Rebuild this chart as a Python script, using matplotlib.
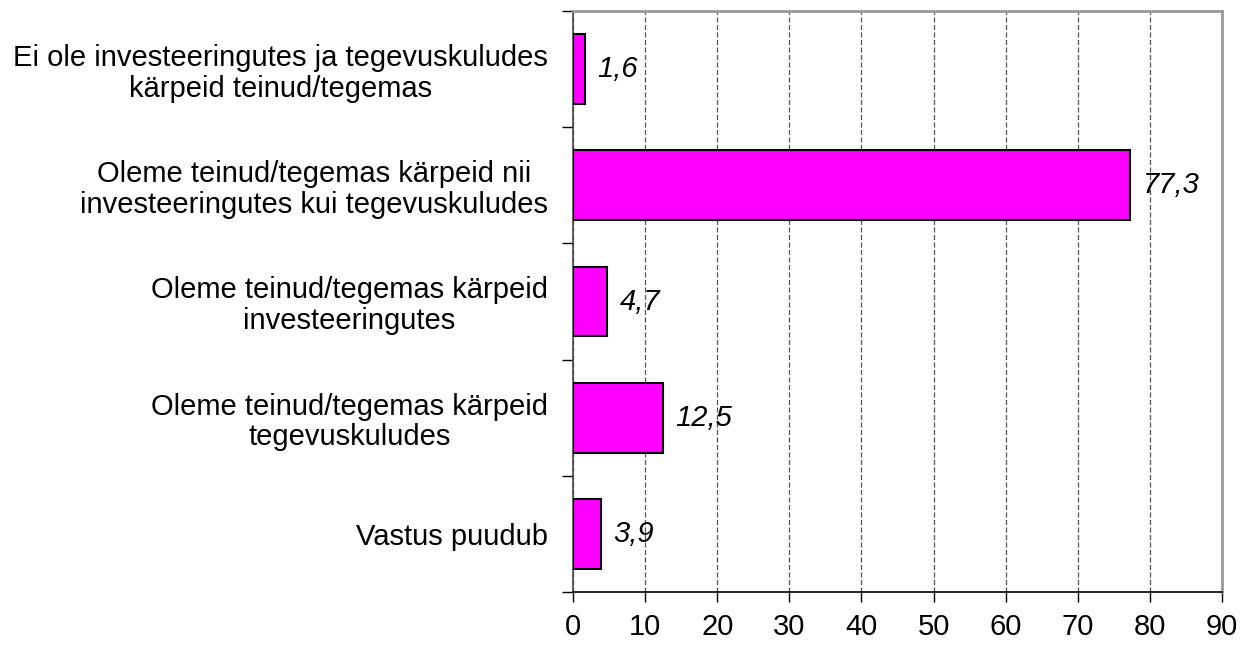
#!/usr/bin/env python3
import matplotlib
import numpy as np

matplotlib.use("Agg")
import matplotlib.pyplot as plt  # noqa: E402

plt.rcParams["font.family"] = ["Liberation Sans", "DejaVu Sans"]

categories = [
    "Ei ole investeeringutes ja tegevuskuludes\nkärpeid teinud/tegemas",
    "Oleme teinud/tegemas kärpeid nii\ninvesteeringutes kui tegevuskuludes",
    "Oleme teinud/tegemas kärpeid\ninvesteeringutes",
    "Oleme teinud/tegemas kärpeid\ntegevuskuludes",
    "Vastus puudub",
]
values = [1.6, 77.3, 4.7, 12.5, 3.9]
value_labels = ["1,6", "77,3", "4,7", "12,5", "3,9"]
x_ticks = list(range(0, 91, 10))

fig = plt.figure(figsize=(12.41, 6.47), dpi=100)
ax = fig.add_axes([573 / 1241, 55 / 647, 649 / 1241, 581 / 647])

pos = np.arange(len(categories))
ax.barh(pos, values, height=0.6, color="#FF00FF", edgecolor="black",
        linewidth=1.5, zorder=3)
for p, v, lab in zip(pos, values, value_labels):
    ax.annotate(lab, (v, p), xytext=(9, 0), textcoords="offset points",
                ha="left", va="center", fontsize=21, style="italic", zorder=4)

ax.set_xlim(0, 90)
ax.set_ylim(len(categories) - 0.5, -0.5)
ax.set_xticks(x_ticks)
ax.tick_params(axis="x", labelsize=21, length=7, width=1, pad=8, direction="out")
ax.xaxis.grid(True, linestyle=(0, (4, 2)), color="#555555", linewidth=0.9, zorder=0)

ax.set_yticks(pos)
ax.set_yticklabels(categories, fontsize=21, linespacing=1.12,
                   multialignment="center")
ax.tick_params(axis="y", which="major", length=0, pad=18)
ax.set_yticks(np.arange(-0.5, len(categories) + 0.5, 1), minor=True)
ax.tick_params(axis="y", which="minor", length=8, width=1, direction="out")

ax.spines["left"].set_color("#444444")
ax.spines["bottom"].set_color("black")
ax.spines["top"].set_color("#999999")
ax.spines["right"].set_color("#999999")
for s in ax.spines.values():
    s.set_linewidth(1.2)
ax.spines["top"].set_linewidth(2)
ax.spines["right"].set_linewidth(2)

fig.savefig("out.png", dpi=100)
